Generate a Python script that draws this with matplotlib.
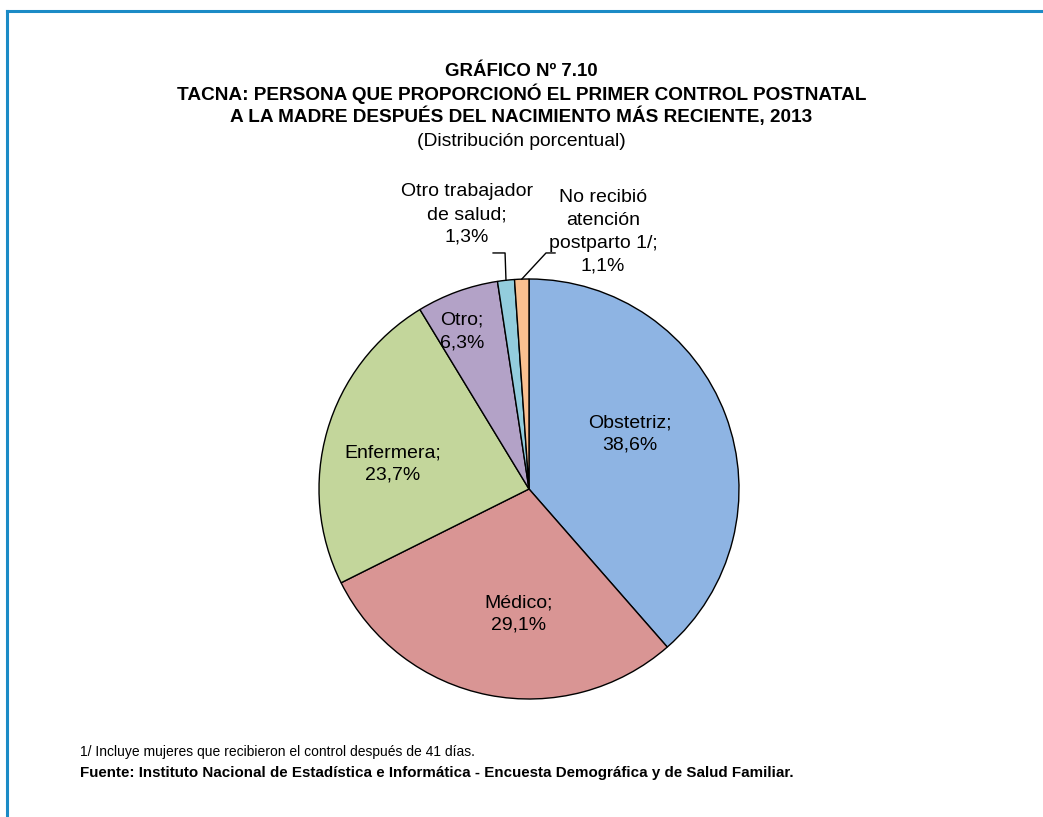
import numpy as np
import matplotlib.pyplot as plt
from matplotlib.lines import Line2D

plt.rcParams["font.family"] = ["Liberation Sans Narrow", "Liberation Sans", "DejaVu Sans"]

categories = ["Obstetriz", "Médico", "Enfermera", "Otro",
              "Otro trabajador\nde salud", "No recibió\natención\npostparto 1/"]
shares = [38.6, 29.1, 23.7, 6.3, 1.3, 1.1]
colors = ["#8EB4E3", "#D99594", "#C3D69B", "#B3A2C7", "#93CDDD", "#FAC090"]

W, H = 1043, 817
fig = plt.figure(figsize=(W / 100, H / 100), dpi=100)

# frame lines on the left and top
fig.add_artist(Line2D([7 / W, 7 / W], [0, 1 - 11 / H], color="#1B8BC6", lw=2.2))
fig.add_artist(Line2D([7 / W, 1], [1 - 11 / H, 1 - 11 / H], color="#1B8BC6", lw=2.2))

# titles
fig.text(0.5, 1 - 72 / H, "GRÁFICO Nº 7.10", ha="center", va="center",
         fontsize=13.4, fontweight="bold")
fig.text(0.5, 1 - 94 / H, "TACNA: PERSONA QUE PROPORCIONÓ EL PRIMER CONTROL POSTNATAL",
         ha="center", va="center", fontsize=13.7, fontweight="bold")
fig.text(0.5, 1 - 116 / H, "A LA MADRE DESPUÉS DEL NACIMIENTO MÁS RECIENTE, 2013",
         ha="center", va="center", fontsize=13.7, fontweight="bold")
fig.text(0.5, 1 - 141 / H, "(Distribución porcentual)", ha="center", va="center",
         fontsize=13.9)

# pie: center (529, 489) px, radius 210 px
cx, cy, R = 529, 489, 210
ax = fig.add_axes([(cx - R) / W, (H - cy - R) / H, 2 * R / W, 2 * R / H])
wedges, _ = ax.pie(shares, colors=colors, startangle=90, counterclock=False,
                   wedgeprops=dict(edgecolor="black", linewidth=1.0))
ax.set_xlim(-1, 1)
ax.set_ylim(-1, 1)
ax.set_aspect("equal")
ax.axis("off")

fracs = np.array(shares) / sum(shares)
starts = np.concatenate([[0], np.cumsum(fracs)[:-1]])
mids = np.deg2rad(90 - (starts + fracs / 2) * 360)

label_pos = [(0.48, 0.262), (-0.05, -0.595), (-0.65, 0.119), (-0.32, 0.752),
             (-0.295, 1.307), (0.352, 1.224)]
for i, (name, val) in enumerate(zip(categories, shares)):
    txt = f"{name};\n{val:.1f}%".replace(".", ",")
    ax.text(label_pos[i][0], label_pos[i][1], txt, ha="center", va="center",
            fontsize=14, linespacing=1.45, clip_on=False)

# leader lines for the two small slices
elbows = {4: [(-0.171, 1.124), (-0.114, 1.124)],
          5: [(0.124, 1.124), (0.081, 1.124)]}
for i, pts in elbows.items():
    ex, ey = np.cos(mids[i]), np.sin(mids[i])
    xs = [p[0] for p in pts] + [ex]
    ys = [p[1] for p in pts] + [ey]
    ax.plot(xs, ys, color="black", lw=1.0, clip_on=False)

# footnotes
fig.text(80 / W, 1 - 752 / H, "1/ Incluye mujeres que recibieron el control después de 41 días.",
         ha="left", va="center", fontsize=10)
fig.text(80 / W, 1 - 773 / H,
         "Fuente: Instituto Nacional de Estadística e Informática - Encuesta Demográfica y de Salud Familiar.",
         ha="left", va="center", fontsize=10.9, fontweight="bold")

fig.savefig("out.png", dpi=100)
